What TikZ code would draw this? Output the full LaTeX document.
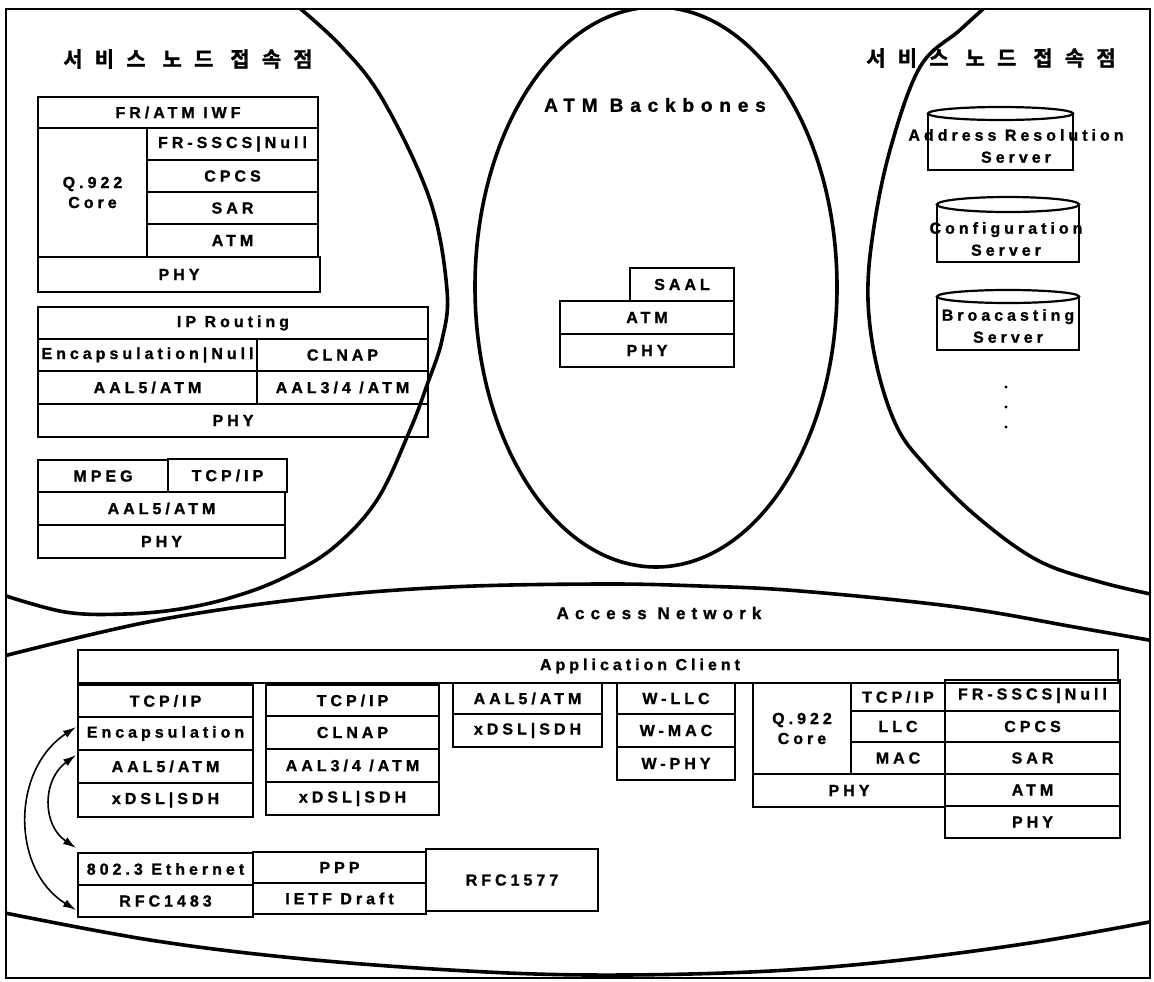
\documentclass[tikz,border=0pt]{standalone}
\usepackage{fontspec}
\newfontfamily\labfont[LetterSpace=25,UprightFont={* Bold},FakeBold=1.2]{Liberation Sans}
\newfontfamily\bigfont[LetterSpace=36,UprightFont={* Bold},FakeBold=1.2]{Liberation Sans}
\newfontfamily\korfont[LetterSpace=58,UprightFont={* Bold},FakeBold=1.5]{Noto Sans CJK KR}
\usetikzlibrary{arrows.meta}
\tikzset{
  box/.style={draw, line width=2.4pt, inner sep=0pt, outer sep=0pt, anchor=north west, align=center,
    font=\labfont\fontsize{16}{20}\selectfont},
  lab/.style={font=\labfont\fontsize{16}{22}\selectfont, align=center, inner sep=0pt},
  big/.style={line width=3.6pt},
  cyl/.style={line width=2.2pt},
  bigtitle/.style={font=\bigfont\fontsize{19}{22}\selectfont, inner sep=0pt},
  midtitle/.style={font=\bigfont\fontsize{17}{20}\selectfont, inner sep=0pt},
  kor/.style={font=\korfont\fontsize{21}{22}\selectfont, inner sep=0pt},
  dbl/.style={{Latex[length=13pt,width=8pt]}-{Latex[length=13pt,width=8pt]}, line width=1.6pt},
}
\newcommand\bx[6]{\node[box,minimum width={#4pt-#2pt},minimum height={#5pt-#3pt}] (#1) at (#2,#3) {#6};}
\begin{document}
\begin{tikzpicture}[x=1pt,y=-1pt]
\useasboundingbox (0,0) rectangle (1154,982);
% big regions
\begin{scope}
\clip (6,9) rectangle (1150,978);
\draw[big] plot[smooth,tension=0.6] coordinates {(290,0) (340,45) (383,100) (430,200) (447,290) (442,340) (427,385) (410,430) (377,500) (333,548) (283,578) (233,597) (180,609) (125,614) (65,612) (0,594)};
\draw[big] (656,287) ellipse [x radius=181, y radius=280];
\draw[big] plot[smooth,tension=0.6] coordinates {(993,0) (960,30) (920,67) (890,150) (873,233) (868,300) (877,367) (897,427) (925,465) (975,515) (1037,560) (1100,582) (1160,596)};
\draw[big] plot[smooth,tension=0.6] coordinates {(0,657) (153,621) (310,598) (450,587) (600,584) (700,586) (800,591) (957,607) (1080,628) (1160,642)};
\draw[big] plot[smooth,tension=0.6] coordinates {(0,912) (150,940) (294,958) (450,970) (589,975) (750,972) (883,962) (1030,943) (1160,920)};
\end{scope}
\draw[line width=2pt] (6,9) rectangle (1150,978);

% titles
\node[kor] (t1) at (188,59) {서비스 노드 접속점};
\node[kor] (t2) at (991,58) {서비스 노드 접속점};
\node[bigtitle] (atmbb) at (655,105) {ATM Backbones};
\node[midtitle] (accnet) at (659,613) {Access Network};

% service node left: FR/ATM
\bx{iwf}{38}{97}{318}{128}{FR/ATM IWF}
\bx{q922}{38}{128}{147}{257}{Q.922\\Core}
\bx{frsscs}{147}{128}{318}{160}{FR-SSCS|Null}
\bx{cpcs}{147}{160}{318}{192}{CPCS}
\bx{sar}{147}{192}{318}{224}{SAR}
\bx{atma}{147}{224}{318}{257}{ATM}
\bx{phya}{38}{257}{320}{292}{PHY}
% IP routing
\bx{iprt}{38}{307}{428}{339}{IP Routing}
\bx{encnull}{38}{339}{257}{371}{Encapsulation|Null}
\bx{clnapa}{257}{339}{428}{371}{CLNAP}
\bx{aalfivea}{38}{371}{257}{404}{AAL5/ATM}
\bx{aalthreea}{257}{371}{428}{404}{AAL3/4 /ATM}
\bx{phyb}{38}{404}{428}{437}{PHY}
% MPEG
\bx{mpeg}{38}{460}{168}{492}{MPEG}
\bx{tcpa}{168}{459}{287}{492}{TCP/IP}
\bx{aalfiveb}{38}{492}{285}{525}{AAL5/ATM}
\bx{phyc}{38}{525}{285}{558}{PHY}

% backbone
\bx{saal}{630}{268}{734}{301}{SAAL}
\bx{atmb}{560}{301}{734}{334}{ATM}
\bx{phyd}{560}{334}{734}{367}{PHY}

% servers
\draw[cyl] (928,113.5) -- (928,170) -- (1073,170) -- (1073,113.5);
\draw[cyl] (1000.5,113.5) ellipse [x radius=72.5, y radius=6.5];
\node[lab] (ars) at (1016,146) {Address Resolution\\Server};
\draw[cyl] (937,204.5) -- (937,262) -- (1079,262) -- (1079,204.5);
\draw[cyl] (1008,204.5) ellipse [x radius=71, y radius=7.5];
\node[lab] (cfg) at (1006,239) {Configuration\\Server};
\draw[cyl] (937,296.5) -- (937,350) -- (1079,350) -- (1079,296.5);
\draw[cyl] (1008,296.5) ellipse [x radius=71, y radius=6.5];
\node[lab] (bcs) at (1008,326) {Broacasting\\Server};
\fill (1006,387) circle (1.6pt) (1006,407) circle (1.6pt) (1006,427) circle (1.6pt);

% application client
\bx{appc}{78}{650}{1118}{683}{}
\node[lab] (apptext) at (640,666) {Application Client};
\bx{tcpb}{78}{685}{253}{717}{TCP/IP}
\bx{encap}{78}{717}{253}{750}{Encapsulation}
\bx{aalfivec}{78}{750}{253}{783}{AAL5/ATM}
\bx{xdsla}{78}{783}{253}{817}{xDSL|SDH}
\bx{tcpc}{266}{685}{439}{716}{TCP/IP}
\bx{clnapb}{266}{716}{439}{749}{CLNAP}
\bx{aalthreeb}{266}{749}{439}{782}{AAL3/4 /ATM}
\bx{xdslb}{266}{782}{439}{815}{xDSL|SDH}
\bx{aalfived}{453}{683}{602}{714}{AAL5/ATM}
\bx{xdslc}{453}{714}{602}{747}{xDSL|SDH}
\bx{wllc}{617}{683}{735}{714}{W-LLC}
\bx{wmac}{617}{714}{735}{747}{W-MAC}
\bx{wphy}{617}{747}{735}{780}{W-PHY}
\bx{qcore}{753}{683}{851}{774}{Q.922\\Core}
\bx{tcpd}{851}{683}{945}{711}{TCP/IP}
\bx{llc}{851}{711}{945}{742}{LLC}
\bx{mac}{851}{742}{945}{774}{MAC}
\bx{phye}{753}{774}{945}{807}{PHY}
\bx{frsscsb}{945}{680}{1120}{711}{FR-SSCS|Null}
\bx{cpcsb}{945}{711}{1120}{742}{CPCS}
\bx{sarb}{945}{742}{1120}{774}{SAR}
\bx{atmc}{945}{774}{1120}{806}{ATM}
\bx{phyf}{945}{806}{1120}{838}{PHY}

% lower stacks
\bx{eth}{78}{853}{253}{885}{802.3 Ethernet}
\bx{rfcb}{78}{885}{253}{917}{RFC1483}
\bx{ppp}{253}{852}{426}{883}{PPP}
\bx{ietf}{253}{883}{426}{914}{IETF Draft}
\bx{rfcc}{426}{849}{598}{911}{RFC1577}

% arrows
\draw[dbl] ([xshift=-2pt,yshift=-10pt]encap.north west) .. controls (11,770) and (11,870) .. ([xshift=-2pt,yshift=7pt]rfcb.south west);
\draw[dbl] ([xshift=-2pt,yshift=-5pt]aalfivec.north west) .. controls (42,780) and (42,825) .. ([xshift=-2pt,yshift=5pt]eth.north west);
\end{tikzpicture}
\end{document}
